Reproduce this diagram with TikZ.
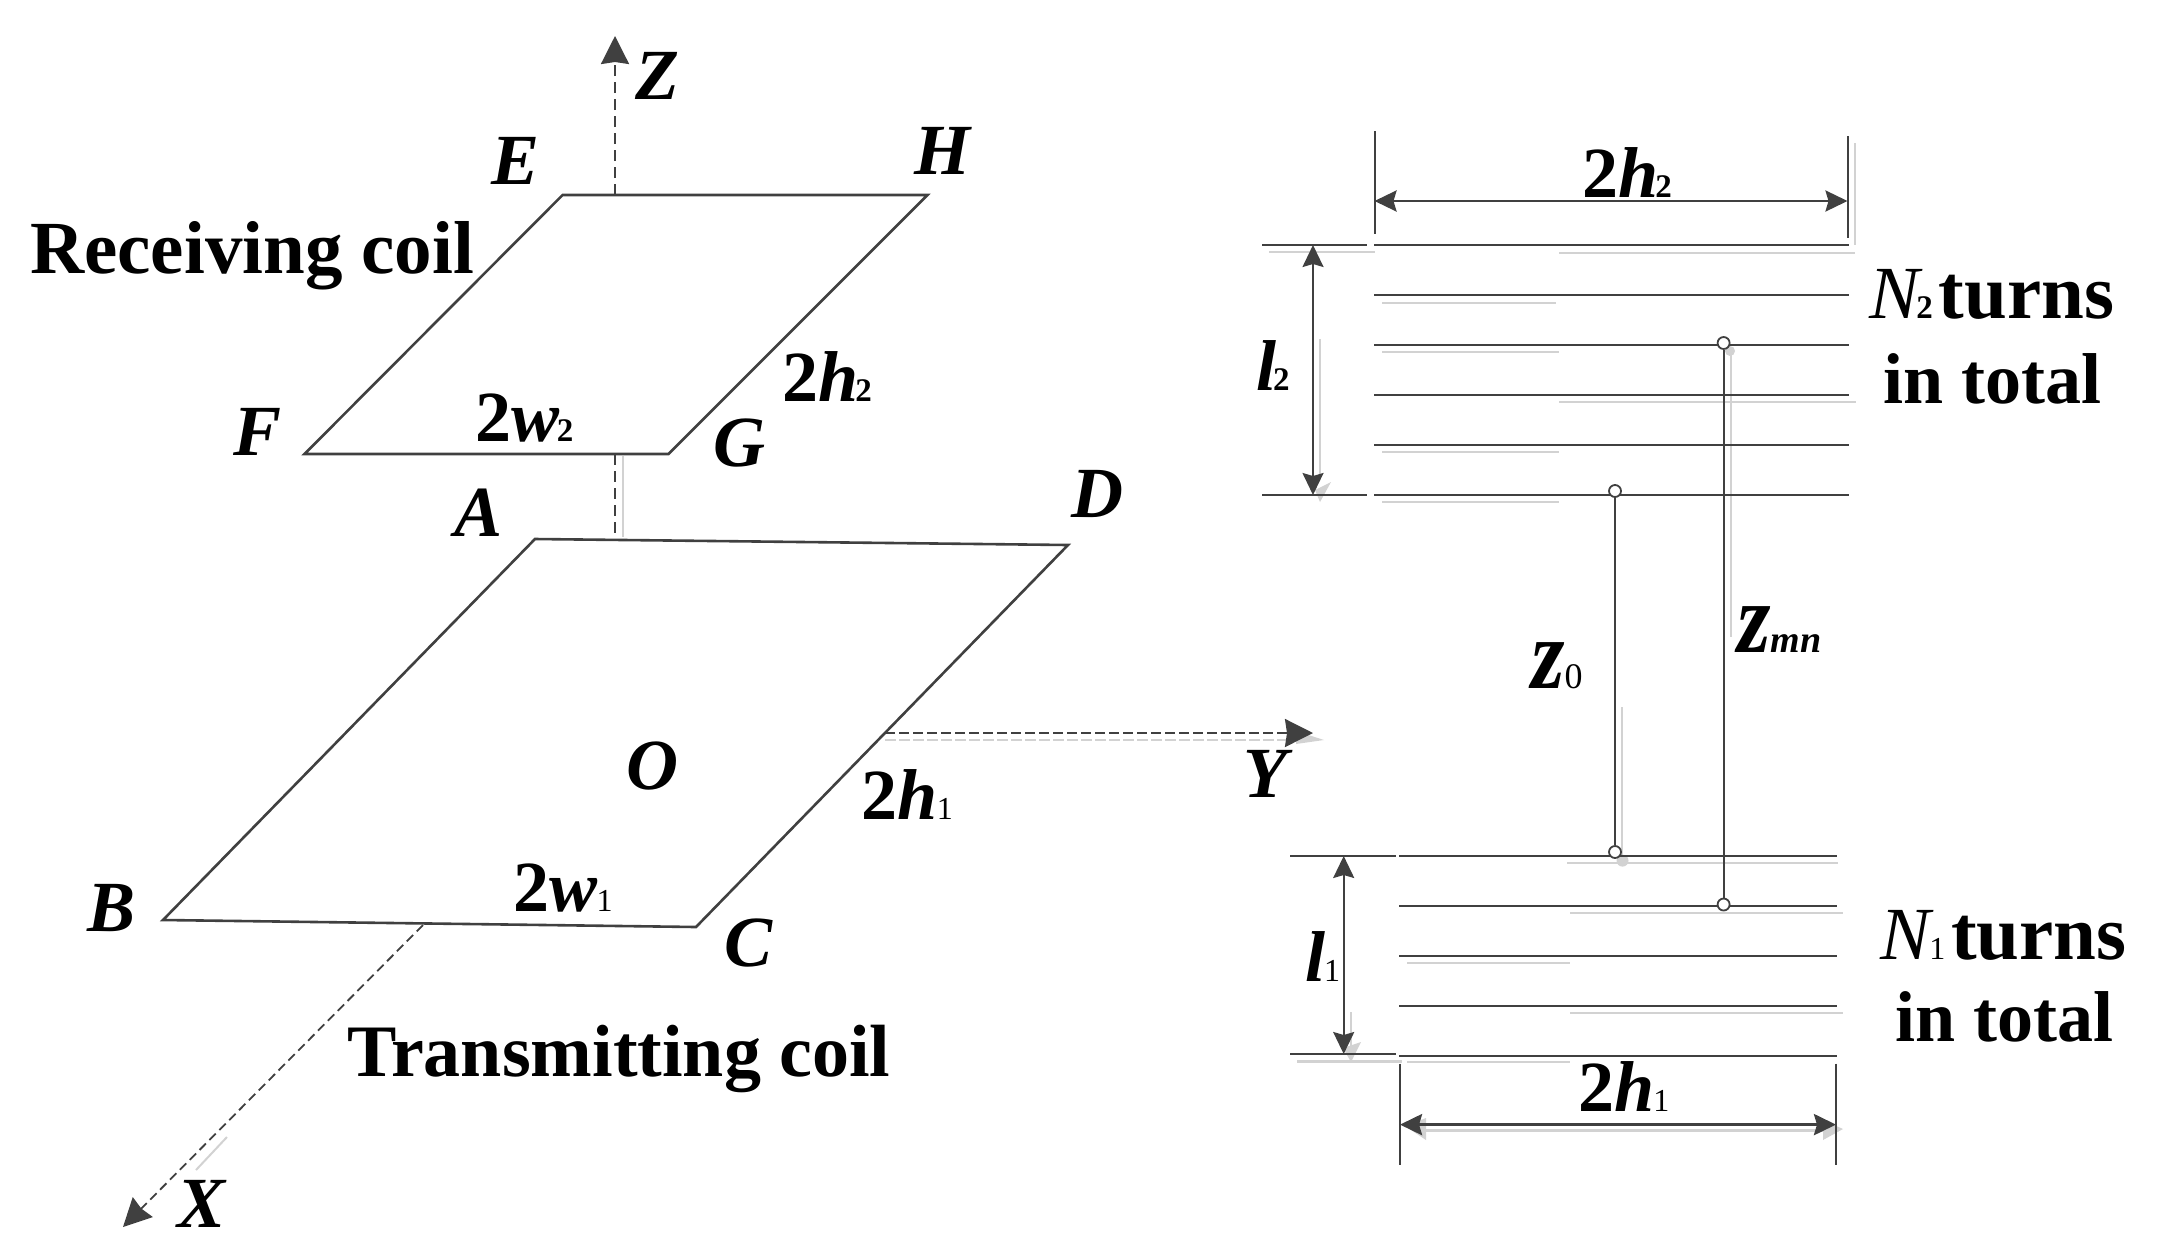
\documentclass[tikz,border=0pt]{standalone}
\usepackage{fontspec}
\setmainfont{Liberation Serif}
\usetikzlibrary{arrows.meta}
\definecolor{ink}{HTML}{404040}
\definecolor{ghost}{HTML}{D2D2D2}
\newcommand\mainsz{\fontsize{72}{72}\selectfont}
\newcommand\widesz{\fontsize{75}{75}\selectfont}
\newcommand\midsz{\fontsize{74}{74}\selectfont}
\newcommand\turnsz{\fontsize{77}{77}\selectfont}
\newcommand\bitxt[1]{{\bfseries\itshape #1}}
\newcommand\bdtxt[1]{{\bfseries #1}}
\newcommand\suba{{\hspace{-1pt}\fontsize{32}{32}\selectfont 1}}
\newcommand\subb{{\hspace{-3pt}\fontsize{33}{33}\selectfont\bfseries 2}}
\newcommand\twoh[1]{\bdtxt{2}\bitxt{h}#1}
\newcommand\twow[1]{\bdtxt{2}\bitxt{w}#1}
\newcommand\bigz{\scalebox{.86}[1]{\fontsize{100}{100}\selectfont\bitxt{z}}}
\tikzset{
  coil/.style={draw=ink,line width=2.6pt,line join=miter},
  wire/.style={draw=ink,line width=2.6pt},
  thinwire/.style={draw=ink,line width=2pt},
  axisline/.style={draw=ink,line width=2.2pt,dash pattern=on 11pt off 6pt,-{Stealth[length=28pt,width=28pt,inset=2pt]}},
  dimline/.style={draw=ink,line width=2pt,{Stealth[length=22pt,width=21pt,inset=3pt]}-{Stealth[length=22pt,width=21pt,inset=3pt]}},
  ghostline/.style={draw=ghost,line width=2pt},
  term/.style={circle,draw=ink,fill=white,line width=1.8pt,minimum size=12pt,inner sep=0pt},
  lbl/.style={anchor=base west,inner sep=0pt,text=black,font=\mainsz},
  widelbl/.style={lbl,font=\widesz},
  midlbl/.style={lbl,font=\midsz},
}
\begin{document}
\begin{tikzpicture}[x=1pt,y=-1pt]
\useasboundingbox (0,0) rectangle (2167,1248);
% --- named points, left figure
\coordinate (E) at (562.6,195);
\coordinate (H) at (927.4,195);
\coordinate (G) at (668.5,454);
\coordinate (F) at (304.5,454);
\coordinate (A) at (535,539);
\coordinate (D) at (1068,545);
\coordinate (C) at (696,927);
\coordinate (B) at (163,920);
\coordinate (ztip) at (615,36);
\coordinate (zup) at (615,195);
\coordinate (zlo) at (615,454);
\coordinate (zmid) at (615,541);
\coordinate (xroot) at (423,925);
\coordinate (xtip) at (123,1227);
\coordinate (yroot) at (885,733);
\coordinate (ytip) at (1313,733);
% --- named points, right figure
\foreach \n/\y in {1/245,2/295,3/345,4/395,5/445,6/495}{
  \coordinate (ra\n) at (1374,\y);
  \coordinate (rb\n) at (1849,\y);
}
\foreach \n/\y in {1/856,2/906,3/956,4/1006,5/1056}{
  \coordinate (ta\n) at (1399,\y);
  \coordinate (tb\n) at (1836.5,\y);
}
% --- faint offset copies
\draw[ghostline] (623,456) -- (623,537);
\draw[ghostline,dash pattern=on 11pt off 3pt] (885,740) -- (1310,740);
\fill[ghost] (1296,731) -- (1324,740) -- (1296,744) -- cycle;
\draw[ghostline] (227,1137) -- (196,1170);
\draw[ghostline] (1855,143) -- (1855,245);
\draw[ghostline] (1269,252) -- (1375,252);
\draw[ghostline] (1559,252.5) -- (1855,252.5);
\draw[ghostline] (1382,302.5) -- (1556,302.5);
\draw[ghostline] (1382,352) -- (1559,352);
\draw[ghostline] (1559,402) -- (1856,402);
\draw[ghostline] (1382,452) -- (1559,452);
\draw[ghostline] (1382,502) -- (1559,502);
\draw[ghostline] (1320,339) -- (1320,480);
\fill[ghost] (1315,490) -- (1331,482) -- (1320,502) -- cycle;
\draw[ghostline] (1731,351) -- (1731,637);
\fill[ghost] (1730,351) circle (5pt);
\draw[ghostline] (1622,707) -- (1622,857);
\fill[ghost] (1622.5,860.6) circle (6pt);
\draw[ghostline] (1567,863) -- (1838,863);
\draw[ghostline] (1570,913) -- (1843,913);
\draw[ghostline] (1407,962.6) -- (1570,962.6);
\draw[ghostline] (1570,1013) -- (1843,1013);
\draw[ghostline,line width=3pt] (1297,1061.6) -- (1402,1061.6);
\draw[ghostline] (1407,1062) -- (1570,1062);
\draw[ghostline] (1350.5,1012) -- (1350.5,1050);
\fill[ghost] (1343,1048) -- (1361,1042) -- (1351,1062) -- cycle;
\draw[ghostline,line width=3pt] (1422,1130.6) -- (1823,1130.6);
\fill[ghost] (1405,1126) -- (1426,1118) -- (1426,1140) -- cycle;
\fill[ghost] (1823,1140) -- (1843,1129) -- (1823,1120) -- cycle;
% --- axes
\draw[axisline] (zup) -- (ztip);
\draw[axisline,-] (zlo) -- (zmid);
\draw[axisline,line width=1.8pt,dash pattern=on 9pt off 5pt] (xroot) -- (xtip);
\draw[axisline,line width=2.2pt,dash pattern=on 10pt off 4pt] (yroot) -- (ytip);
% --- coils in perspective
\draw[coil] (E) -- (H) -- (G) -- (F) -- cycle;
\draw[coil] (A) -- (D) -- (C) -- (B) -- cycle;
% --- coil turns
\foreach \n in {1,...,6}{\draw[wire] (ra\n) -- (rb\n);}
\foreach \n in {1,...,5}{\draw[wire] (ta\n) -- (tb\n);}
% --- ticks
\coordinate (tl1a) at (1262,245); \coordinate (tl1b) at (1367,245);
\coordinate (tl2a) at (1262,495); \coordinate (tl2b) at (1367,495);
\coordinate (tl3a) at (1290,856); \coordinate (tl3b) at (1395.5,856);
\coordinate (tl4a) at (1290,1054); \coordinate (tl4b) at (1395.5,1054);
\draw[wire] (tl1a) -- (tl1b);
\draw[wire] (tl2a) -- (tl2b);
\draw[wire] (tl3a) -- (tl3b);
\draw[wire] (tl4a) -- (tl4b);
% --- extension lines
\coordinate (ex1a) at (1374.5,131); \coordinate (ex1b) at (1374.5,234);
\coordinate (ex2a) at (1847.5,136); \coordinate (ex2b) at (1847.5,237.5);
\coordinate (ex3a) at (1400,1063.5); \coordinate (ex3b) at (1400,1165);
\coordinate (ex4a) at (1836,1063.5); \coordinate (ex4b) at (1836,1165);
\draw[thinwire] (ex1a) -- (ex1b);
\draw[thinwire] (ex2a) -- (ex2b);
\draw[thinwire] (ex3a) -- (ex3b);
\draw[thinwire] (ex4a) -- (ex4b);
% --- dimension arrows
\coordinate (d1a) at (1374.5,201); \coordinate (d1b) at (1847.5,201);
\coordinate (d2a) at (1400,1124.6); \coordinate (d2b) at (1836,1124.6);
\coordinate (d3a) at (1313,245); \coordinate (d3b) at (1313,495);
\coordinate (d4a) at (1343.7,856); \coordinate (d4b) at (1343.7,1054);
\draw[dimline,line width=2.6pt] (d1a) -- (d1b);
\draw[dimline,line width=3.4pt] (d2a) -- (d2b);
\draw[dimline] (d3a) -- (d3b);
\draw[dimline] (d4a) -- (d4b);
% --- spacing markers
\node[term] (z0t) at (1615,491) {};
\node[term] (z0b) at (1615,852) {};
\node[term] (zmt) at (1723.6,343) {};
\node[term] (zmb) at (1723.6,904.5) {};
\draw[thinwire] (z0t) -- (z0b);
\draw[thinwire] (zmt) -- (zmb);
% --- labels
\node[lbl] (lZ) at (635,99) {\bitxt{Z}};
\node[lbl] (lE) at (491,184) {\bitxt{E}};
\node[lbl] (lH) at (914,174) {\bitxt{H}};
\node[lbl] (lF) at (233,455) {\bitxt{F}};
\node[lbl] (lG) at (713,466) {\bitxt{G}};
\node[lbl] (lA) at (454,536) {\bitxt{A}};
\node[lbl] (lD) at (1071,517) {\bitxt{D}};
\node[lbl] (lB) at (87,931.6) {\bitxt{B}};
\node[lbl] (lC) at (724,966) {\bitxt{C}};
\node[lbl] (lO) at (626,789) {\bitxt{O}};
\node[lbl] (lX) at (177,1227) {\bitxt{X}};
\node[lbl] (lY) at (1243,797) {\bitxt{Y}};
\node[widelbl] (rcv) at (30,273) {\bdtxt{Receiving coil}};
\node[midlbl] (trn) at (347,1076) {\bdtxt{Transmitting coil}};
\node[lbl] (s2w2) at (475.6,441) {\twow{\subb}};
\node[lbl] (s2h2) at (782,401) {\twoh{\subb}};
\node[lbl] (s2w1) at (513.5,911) {\twow{\suba}};
\node[lbl] (s2h1) at (861.5,819.4) {\twoh{\suba}};
\node[lbl] (d2h2) at (1582,197.5) {\twoh{\subb}};
\node[lbl] (d2h1) at (1578,1111) {\twoh{\suba}};
\node[lbl] (ll2) at (1256,390) {\bitxt{l}\subb};
\node[lbl] (ll1) at (1305,981) {\bitxt{l}\suba};
\node[widelbl] (ln2) at (1869,318.6) {{\itshape N}\subb\hspace{6pt}{\turnsz\bdtxt{turns}}};
\node[lbl] (it2) at (1883,403) {\bdtxt{in total}};
\node[widelbl] (ln1) at (1880,959) {{\itshape N}\suba\hspace{6pt}{\turnsz\bdtxt{turns}}};
\node[lbl] (it1) at (1895,1041.7) {\bdtxt{in total}};
\node[lbl] (lz0) at (1531,688) {\bigz{\fontsize{36}{36}\selectfont 0}};
\node[lbl] (lzm) at (1737,652) {\bigz{\fontsize{38}{38}\selectfont\bfseries\itshape mn}};
\end{tikzpicture}
\end{document}
